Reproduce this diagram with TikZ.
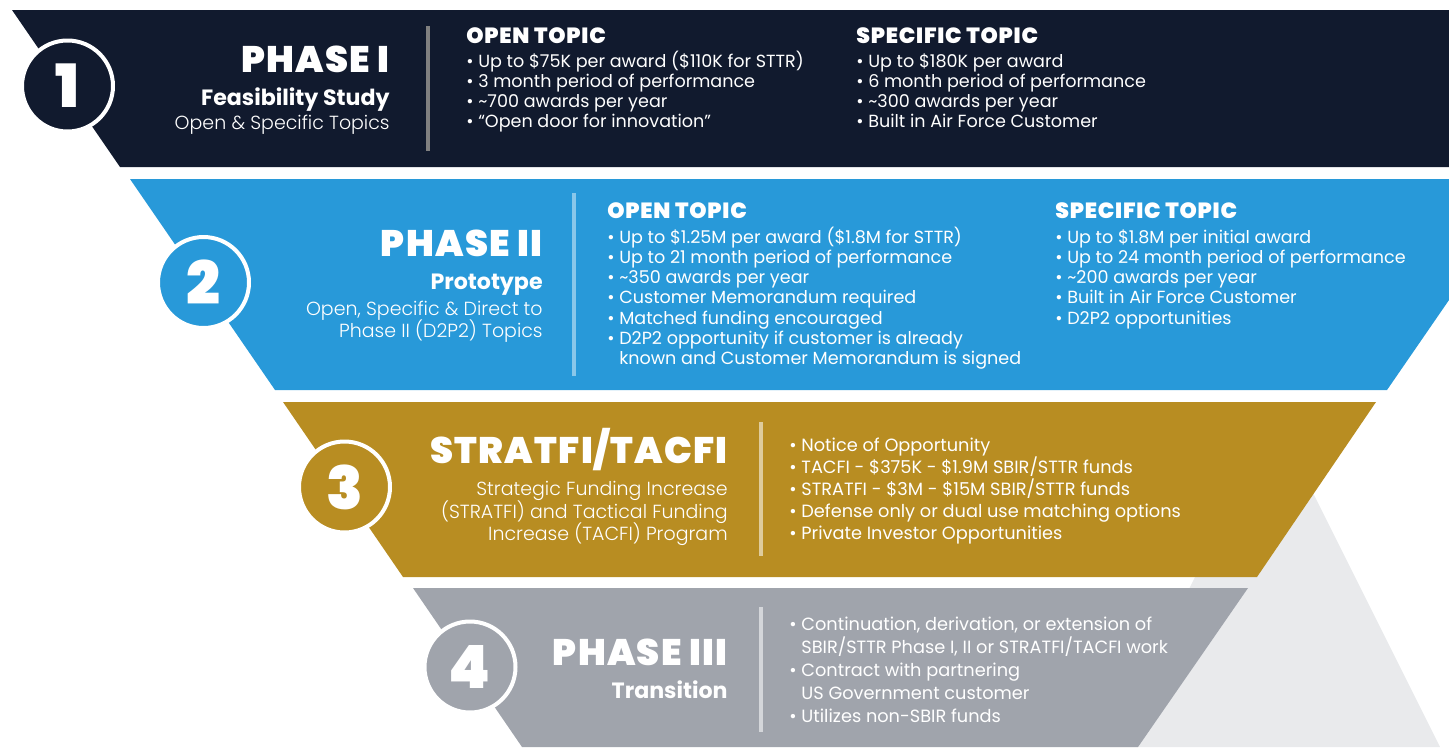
\documentclass[tikz,border=0pt]{standalone}
\usepackage{fontspec}
\setmainfont{Poppins}
\newfontfamily\phasefont{Poppins Black}[LetterSpace=3.5]
\newfontfamily\numfont{Poppins Black}
\newfontfamily\subfont{Poppins Bold}
\newfontfamily\lightfont{Poppins Light}
\definecolor{navy}{HTML}{111A2E}
\definecolor{sky}{HTML}{2899D9}
\definecolor{gold}{HTML}{B88D22}
\definecolor{slate}{HTML}{A0A4AC}
\definecolor{mist}{HTML}{E9EAEC}
\newcommand\bul{\textbullet\ }
\newcommand\nobul{\hphantom{\textbullet\ }}
\begin{document}
\begin{tikzpicture}[x=0.02cm,y=-0.02cm,
    num/.style={circle,draw=white,line width=0.08cm,minimum size=1.82cm,inner sep=0,
        text=white,font=\numfont\fontsize{34}{34}\selectfont},
    phase/.style={anchor=base east,inner sep=0,text=white,font=\phasefont\fontsize{21}{22}\selectfont},
    sub/.style={anchor=base east,inner sep=0,text=white,font=\subfont\fontsize{12.6}{13}\selectfont},
    thin/.style={anchor=base east,inner sep=0,text=white,font=\lightfont\fontsize{10.8}{12}\selectfont},
    topic/.style={anchor=base west,inner sep=0,text=white,font=\phasefont\fontsize{12.5}{13}\selectfont},
    item/.style={anchor=base west,inner sep=0,text=white,font=\fontsize{10}{12}\selectfont},
    bigitem/.style={item,font=\fontsize{10.1}{12}\selectfont},
    rule/.style={line width=0.07cm}]
\useasboundingbox (0,0) rectangle (1449,747);
% background triangle
\fill[mist] (1275,417) -- (1440,747) -- (1110,747) -- cycle;
% bands
\fill[navy] (12,10) -- (1449,10) -- (1449,167) -- (120,167) -- cycle;
\fill[sky] (130,179) -- (1449,179) -- (1449,300) -- (1387,390) -- (275,390) -- cycle;
\fill[gold] (283,402) -- (1376,402) -- (1257,577) -- (403,577) -- cycle;
\fill[slate] (413,588) -- (1248,588) -- (1138,747) -- (522,747) -- cycle;
% dividers
\draw[rule,gray] (428,26) -- (428,151);
\draw[rule,sky!55!white] (574,193) -- (574,376);
\draw[rule,gold!45!white] (761,422) -- (761,556);
\draw[rule,slate!45!white] (761,607) -- (761,732);
% numbers
\node[num,fill=navy] (c1) at (67.5,86) {1};
\node[num,fill=sky] (c2) at (203.5,282.5) {2};
\node[num,fill=gold] (c3) at (344.5,487) {3};
\node[num,fill=slate] (c4) at (470,667) {4};

% phase I
\node[phase] (h1) at (390,72) {PHASE I};
\node[sub] (s1) at (390,105) {Feasibility Study};
\node[thin] (t1) at (390,129) {Open \& Specific Topics};
\node[topic] (o1) at (466,43) {OPEN TOPIC};
\node[item] (o1a) at (466,67) {\bul Up to \$75K per award (\$110K for STTR)};
\node[item] (o1b) at (466,87) {\bul 3 month period of performance};
\node[item] (o1c) at (466,107) {\bul \textasciitilde 700 awards per year};
\node[item] (o1d) at (466,127) {\bul “Open door for innovation”};
\node[topic] (p1) at (856,43) {SPECIFIC TOPIC};
\node[item] (p1a) at (856,67) {\bul Up to \$180K per award};
\node[item] (p1b) at (856,87) {\bul 6 month period of performance};
\node[item] (p1c) at (856,107) {\bul \textasciitilde 300 awards per year};
\node[item] (p1d) at (856,127) {\bul Built in Air Force Customer};

% phase II
\node[phase] (h2) at (543,256) {PHASE II};
\node[sub] (s2) at (543,289) {Prototype};
\node[thin] (t2a) at (543,315) {Open, Specific \& Direct to};
\node[thin] (t2b) at (543,337) {Phase II (D2P2) Topics};
\node[topic] (o2) at (607,218) {OPEN TOPIC};
\node[item] (o2a) at (607,243) {\bul Up to \$1.25M per award (\$1.8M for STTR)};
\node[item] (o2b) at (607,263.3) {\bul Up to 21 month period of performance};
\node[item] (o2c) at (607,283.6) {\bul \textasciitilde 350 awards per year};
\node[item] (o2d) at (607,303.9) {\bul Customer Memorandum required};
\node[item] (o2e) at (607,324.2) {\bul Matched funding encouraged};
\node[item] (o2f) at (607,344.5) {\bul D2P2 opportunity if customer is already};
\node[item] (o2g) at (607,364.8) {\nobul known and Customer Memorandum is signed};
\node[topic] (p2) at (1055,218) {SPECIFIC TOPIC};
\node[item] (p2a) at (1055,243) {\bul Up to \$1.8M per initial award};
\node[item] (p2b) at (1055,263.3) {\bul Up to 24 month period of performance};
\node[item] (p2c) at (1055,283.6) {\bul \textasciitilde 200 awards per year};
\node[item] (p2d) at (1055,303.9) {\bul Built in Air Force Customer};
\node[item] (p2e) at (1055,324.2) {\bul D2P2 opportunities};

% STRATFI/TACFI
\node[phase] (h3) at (728,463) {STRATFI/TACFI};
\node[thin] (t3a) at (728,495) {Strategic Funding Increase};
\node[thin] (t3b) at (728,518) {(STRATFI) and Tactical Funding};
\node[thin] (t3c) at (728,540) {Increase (TACFI) Program};
\node[bigitem] (b3a) at (789,451) {\bul Notice of Opportunity};
\node[bigitem] (b3b) at (789,473) {\bul TACFI - \$375K - \$1.9M SBIR/STTR funds};
\node[bigitem] (b3c) at (789,495) {\bul STRATFI - \$3M - \$15M SBIR/STTR funds};
\node[bigitem] (b3d) at (789,517) {\bul Defense only or dual use matching options};
\node[bigitem] (b3e) at (789,539) {\bul Private Investor Opportunities};

% phase III
\node[phase] (h4) at (728,665) {PHASE III};
\node[sub] (s4) at (728,698) {Transition};
\node[bigitem] (b4a) at (789,630) {\bul Continuation, derivation, or extension of};
\node[bigitem] (b4b) at (789,653) {\nobul SBIR/STTR Phase I, II or STRATFI/TACFI work};
\node[bigitem] (b4c) at (789,676) {\bul Contract with partnering};
\node[bigitem] (b4d) at (789,699) {\nobul US Government customer};
\node[bigitem] (b4e) at (789,722) {\bul Utilizes non-SBIR funds};
\end{tikzpicture}
\end{document}
